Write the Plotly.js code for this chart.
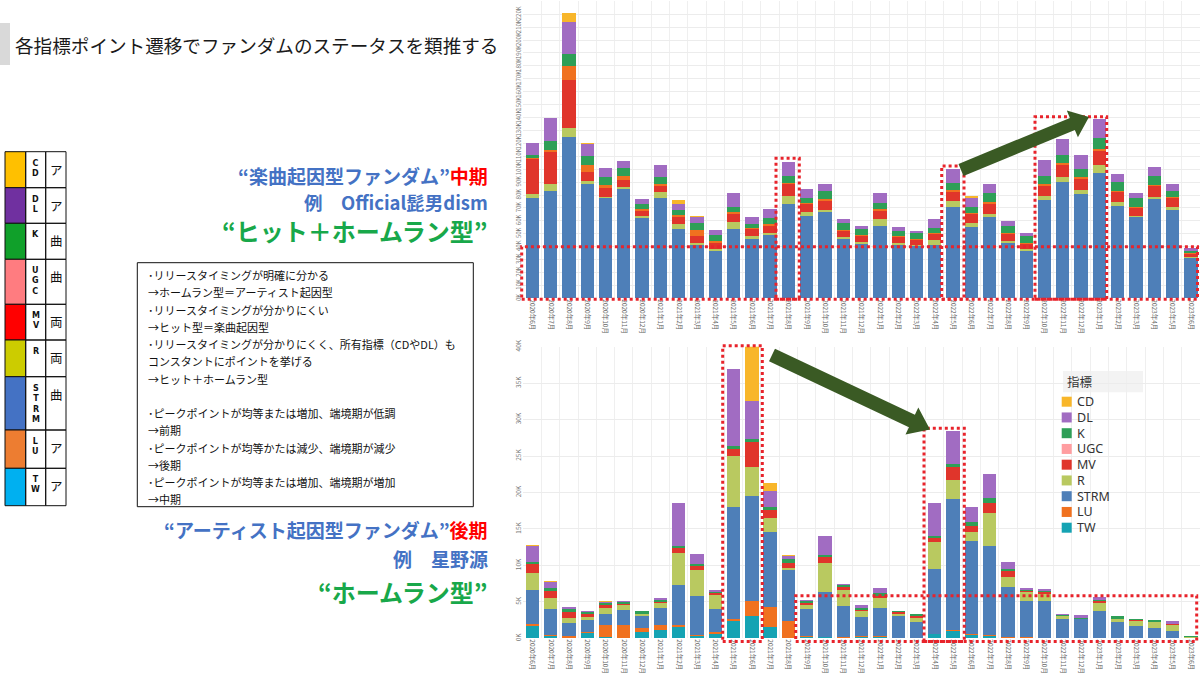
<!DOCTYPE html>
<html>
<head>
<meta charset="utf-8">
<script src="https://cdn.plot.ly/plotly-3.0.1.min.js"></script>
<style>
  html, body { margin: 0; padding: 0; background: #fff; }
  #chart { width: 1200px; height: 675px; }
</style>
</head>
<body>
<div id="chart"></div>
<script>
// months on both charts
const months = [
  "2020年6月", "2020年7月", "2020年8月", "2020年9月", "2020年10月", "2020年11月", "2020年12月",
  "2021年1月", "2021年2月", "2021年3月", "2021年4月", "2021年5月", "2021年6月", "2021年7月",
  "2021年8月", "2021年9月", "2021年10月", "2021年11月", "2021年12月",
  "2022年1月", "2022年2月", "2022年3月", "2022年4月", "2022年5月", "2022年6月", "2022年7月",
  "2022年8月", "2022年9月", "2022年10月", "2022年11月", "2022年12月",
  "2023年1月", "2023年2月", "2023年3月", "2023年4月", "2023年5月", "2023年6月"
];

// top chart (Official髭男dism), points in K
const topSTRM = [77.9, 83.1, 125.2, 88.5, 77.4, 84.6, 62.2, 77.4, 53.4, 41.3, 36.9, 53.4, 46.2, 49.0, 72.8, 63.7, 66.8, 46.2, 42.1, 56.3, 41.3, 40.5, 41.3, 71.0, 55.0, 63.2, 43.1, 36.9, 76.1, 90.3, 80.5, 96.8, 71.5, 62.7, 76.6, 68.4, 31.0];
const topR    = [2.6, 5.2, 7.0, 2.3, 1.3, 1.3, 1.5, 4.6, 4.1, 1.8, 1.6, 5.4, 2.1, 1.8, 6.7, 2.9, 1.6, 1.0, 1.3, 5.1, 1.8, 0.8, 3.9, 4.1, 3.1, 2.1, 1.5, 1.6, 3.4, 3.9, 3.4, 6.4, 3.3, 1.3, 2.1, 2.6, 0.7];
const topMV   = [27.1, 24.7, 36.9, 7.0, 6.5, 5.7, 4.1, 4.9, 5.2, 5.2, 4.1, 6.5, 5.1, 5.2, 8.8, 6.4, 7.2, 5.2, 4.9, 6.5, 4.1, 3.9, 4.6, 7.5, 7.2, 7.7, 5.2, 3.6, 7.7, 9.0, 8.5, 11.1, 7.3, 6.2, 8.3, 6.4, 2.6];
const topLU   = [1.3, 1.8, 11.1, 5.4, 2.6, 3.1, 1.0, 1.5, 1.6, 4.6, 2.0, 1.5, 1.1, 1.5, 0.7, 1.1, 1.0, 0.5, 0.7, 1.0, 1.1, 1.0, 1.0, 1.3, 1.0, 1.6, 1.0, 1.0, 1.1, 1.3, 1.3, 1.1, 1.0, 0.8, 0.7, 1.3, 0.5];
const topK    = [1.8, 7.0, 9.0, 7.2, 6.5, 6.5, 4.1, 5.2, 4.1, 5.7, 4.7, 4.2, 3.0, 4.4, 6.0, 3.8, 6.8, 5.2, 4.9, 5.2, 4.1, 4.1, 3.7, 5.1, 4.2, 7.2, 5.5, 5.2, 6.4, 6.5, 6.4, 9.0, 6.7, 6.4, 7.0, 4.4, 2.1];
const topDL   = [9.3, 18.1, 24.8, 9.3, 6.5, 5.2, 3.9, 9.3, 4.6, 4.6, 3.6, 10.3, 5.2, 7.0, 10.5, 7.0, 5.4, 3.1, 2.4, 7.2, 3.1, 1.8, 6.9, 11.1, 6.9, 6.7, 3.8, 2.0, 12.1, 12.1, 10.9, 14.7, 6.5, 4.1, 6.7, 5.4, 1.8];
const topCD   = [0, 0, 6.7, 0.8, 0, 0, 0, 0, 2.9, 0.8, 0, 0, 0, 0, 0, 0, 0, 0, 0, 0, 0, 0, 0, 0, 2.1, 0, 0, 0, 0, 0, 0, 0, 0, 0, 0.5, 0, 0];

// bottom chart (星野源), points in K
const botTW   = [1.7, 0.3, 0.05, 0.7, 0.2, 0.1, 0.9, 1.2, 1.55, 0.3, 0.6, 2.4, 3.0, 1.55, 0.1, 0.15, 0.2, 0.1, 0.2, 0.2, 0.1, 0.1, 0.55, 1.0, 0.4, 0.3, 0.05, 0.05, 0.05, 0.05, 0, 0.05, 0, 0, 0, 0, 0];
const botLU   = [0.2, 0.2, 0.3, 0.1, 1.6, 1.7, 0.5, 0.6, 0.3, 0.2, 0.3, 0.3, 2.1, 2.8, 2.3, 0.2, 0, 0.1, 0.1, 0.1, 0, 0, 0.1, 0.15, 0.2, 0.2, 0.15, 0.1, 0.05, 0, 0, 0, 0, 0, 0, 0, 0];
const botSTRM = [4.7, 3.5, 1.8, 1.7, 1.6, 2.1, 1.6, 2.4, 5.4, 5.3, 3.1, 15.3, 14.4, 10.2, 7.0, 3.7, 6.1, 4.25, 2.6, 3.9, 3.0, 2.2, 8.9, 17.95, 12.7, 12.2, 6.9, 4.9, 5.0, 2.6, 2.6, 3.7, 2.25, 1.7, 1.45, 1.0, 0.05];
const botR    = [2.4, 1.5, 0.6, 0.4, 0.8, 0.6, 0.4, 0.6, 4.4, 3.6, 1.9, 7.0, 4.0, 1.9, 0.3, 0.5, 4.0, 2.15, 0.8, 1.3, 0.2, 0.5, 3.7, 2.6, 1.3, 4.5, 1.3, 1.3, 1.0, 0.35, 0.1, 1.15, 0.45, 0.65, 0.75, 0.8, 0.15];
const botMV   = [1.2, 1.0, 0.8, 0.4, 0.3, 0.2, 0, 0.2, 0.7, 0.5, 0.3, 1.0, 3.4, 1.1, 0.6, 0.3, 0.8, 0.45, 0.2, 0.3, 0.3, 0.2, 0.55, 1.8, 0.8, 1.3, 0.8, 0.2, 0.3, 0.05, 0, 0.2, 0, 0.1, 0, 0.1, 0];
const botUGC  = [0, 0, 0, 0, 0, 0, 0, 0, 0, 0, 0, 0, 0, 0, 0, 0, 0, 0, 0, 0, 0, 0, 0, 0, 0, 0, 0, 0, 0, 0, 0, 0, 0, 0, 0, 0, 0];
const botK    = [0.2, 0.4, 0.5, 0.3, 0.3, 0.3, 0.3, 0.2, 0.3, 0.3, 0.2, 0.4, 0.4, 0.5, 0.6, 0.2, 0.3, 0.2, 0.3, 0.4, 0.1, 0.3, 0.3, 0.4, 0.5, 0.7, 0.3, 0.1, 0.1, 0.1, 0.1, 0.2, 0.3, 0.15, 0.25, 0.05, 0.1];
const botDL   = [2.3, 0.8, 0.2, 0.1, 0.2, 0.1, 0, 0.3, 5.9, 1.3, 0.2, 10.5, 5.3, 2.2, 0.4, 0.2, 2.6, 0.25, 0.4, 0.7, 0, 0, 4.4, 4.6, 2.15, 3.3, 0.9, 0.3, 0.3, 0.25, 0.35, 0.4, 0, 0, 0, 0.4, 0];
const botCD   = [0.1, 0.1, 0, 0, 0.05, 0, 0, 0, 0, 0, 0, 0, 7.5, 1.1, 0.1, 0, 0, 0, 0, 0, 0, 0, 0.1, 0, 0, 0, 0, 0, 0, 0, 0, 0, 0, 0, 0, 0, 0];

// legend / index table
const legendNames = ["CD", "DL", "K", "UGC", "MV", "R", "STRM", "LU", "TW"];
const tableLabels = ["C<br>D", "D<br>L", "K", "U<br>G<br>C", "M<br>V", "R", "S<br>T<br>R<br>M", "L<br>U", "T<br>W"];
const tableKana = ["ア", "ア", "曲", "曲", "両", "両", "曲", "ア", "ア"];

const noteLines = [
  "･リリースタイミングが明確に分かる",
  "→ホームラン型＝アーティスト起因型",
  "･リリースタイミングが分かりにくい",
  "→ヒット型＝楽曲起因型",
  "･リリースタイミングが分かりにくく、所有指標（CDやDL）も",
  "コンスタントにポイントを挙げる",
  "→ヒット＋ホームラン型",
  "",
  "･ピークポイントが均等または増加、端境期が低調",
  "→前期",
  "･ピークポイントが均等かたは減少、端境期が減少",
  "→後期",
  "･ピークポイントが均等または増加、端境期が増加",
  "→中期"
];

const colors = {
  CD: "#f8b62a", DL: "#a16cc2", K: "#2e9f57", UGC: "#ff9da0", MV: "#e0352b",
  R: "#b9c960", STRM: "#4e7fb8", LU: "#f0711f", TW: "#15a3b3"
};
const tableColors = ["#ffc000", "#7030a0", "#10a02a", "#ff7c80", "#ff0000", "#cccc00", "#4472c4", "#ed7d31", "#00b0f0"];

const JP = "'Noto Sans CJK JP', 'Noto Sans', sans-serif";

// pixel -> paper helpers
const px = (x) => x / 1200;
const py = (y) => 1 - y / 675;

function bar(name, y, xa, ya) {
  return {
    type: "bar", name: name, x: months, y: y, xaxis: xa, yaxis: ya,
    marker: { color: colors[name], line: { width: 0 } },
    showlegend: false, hoverinfo: "skip",
  };
}

const traces = [
  bar("STRM", topSTRM, "x", "y"),
  bar("R", topR, "x", "y"),
  bar("MV", topMV, "x", "y"),
  bar("LU", topLU, "x", "y"),
  bar("K", topK, "x", "y"),
  bar("DL", topDL, "x", "y"),
  bar("CD", topCD, "x", "y"),

  bar("TW", botTW, "x2", "y2"),
  bar("LU", botLU, "x2", "y2"),
  bar("STRM", botSTRM, "x2", "y2"),
  bar("R", botR, "x2", "y2"),
  bar("MV", botMV, "x2", "y2"),
  bar("UGC", botUGC, "x2", "y2"),
  bar("K", botK, "x2", "y2"),
  bar("DL", botDL, "x2", "y2"),
  bar("CD", botCD, "x2", "y2"),
];

const xCommon = {
  type: "category",
  domain: [px(523.2), 1],
  range: [-0.5, 36.5],
  tickangle: 90,
  tickfont: { size: 6.5, color: "#666", family: JP },
  showgrid: true,
  gridcolor: "#efefef",
  tickson: "boundaries",
  ticks: "",
  showline: false,
  zeroline: false,
  fixedrange: true,
};
const yCommon = {
  ticksuffix: "K",
  tickangle: -90,
  tickfont: { size: 6, color: "#777", family: JP },
  showgrid: true,
  gridcolor: "#ececec",
  zeroline: false,
  showline: false,
  ticks: "",
  fixedrange: true,
};

const shapes = [];
const annotations = [];

function rect(x0, y0, x1, y1, opt) {
  shapes.push(Object.assign({
    type: "rect", xref: "paper", yref: "paper",
    x0: px(x0), x1: px(x1), y0: py(y1), y1: py(y0), layer: "above",
  }, opt));
}
function text(x, y, t, opt, font) {
  annotations.push(Object.assign({
    xref: "paper", yref: "paper", x: px(x), y: py(y), text: t,
    showarrow: false, xanchor: "left", yanchor: "middle",
    font: Object.assign({ family: JP, size: 12, color: "#111" }, font || {}),
  }, opt));
}
function arrow(x0, y0, x1, y1, w, hw, hl) {
  const dx = x1 - x0, dy = y1 - y0, L = Math.hypot(dx, dy);
  const ux = dx / L, uy = dy / L, nx = -uy, ny = ux;
  const bx = x1 - ux * hl, by = y1 - uy * hl;
  const pts = [
    [x0 + nx * w / 2, y0 + ny * w / 2], [bx + nx * w / 2, by + ny * w / 2],
    [bx + nx * hw / 2, by + ny * hw / 2], [x1, y1],
    [bx - nx * hw / 2, by - ny * hw / 2], [bx - nx * w / 2, by - ny * w / 2],
    [x0 - nx * w / 2, y0 - ny * w / 2],
  ];
  shapes.push({
    type: "path", xref: "paper", yref: "paper", layer: "above",
    path: "M " + pts.map((p) => px(p[0]) + "," + py(p[1])).join(" L ") + " Z",
    fillcolor: "#3a5a24", line: { width: 0 },
  });
}

// red dotted highlight boxes
const dotted = { line: { color: "#e8232b", width: 3, dash: "dot" }, fillcolor: "rgba(0,0,0,0)" };
rect(521.7, 246.7, 1197.5, 299.3, dotted);
rect(776, 158.3, 799.3, 299.3, dotted);
rect(941.7, 166, 964, 299.3, dotted);
rect(1035, 116.7, 1106.7, 299.3, dotted);
rect(722.7, 345.7, 762.3, 641.5, dotted);
rect(795.7, 595.7, 1196.7, 641.5, dotted);
rect(924, 428.3, 964.3, 641.5, dotted);

// arrows
arrow(961, 170, 1089, 117, 13, 29, 18);
arrow(772, 355, 930, 429.5, 14, 30, 20);

// legend of the bottom chart
rect(1063, 371, 1143, 392.3, { fillcolor: "#f3f3f3", line: { width: 0 }, layer: "below" });
text(1065, 381.7, "指標", {}, { size: 12.5, color: "#333" });
legendNames.forEach((n, i) => {
  const yc = 401.7 + i * 15.75;
  rect(1061.7, yc - 5, 1071.7, yc + 5, { fillcolor: colors[n], line: { width: 0 } });
  text(1075, yc, n, {}, { size: 12.5, color: "#333", family: "'Noto Sans', sans-serif" });
});

// slide title
rect(0, 23, 10, 65, { fillcolor: "#d9d9d9", line: { width: 0 } });
text(13, 45, "各指標ポイント遷移でファンダムのステータスを類推する", {}, { size: 18.6, color: "#1a1a1a" });

// index table on the left
const rowTops = [151.7, 187.7, 223.3, 259.3, 304.3, 340, 376.7, 430, 468.3, 505.7];
const cols = [5, 25.7, 45.7, 66];
tableLabels.forEach((lab, i) => {
  const t0 = rowTops[i], t1 = rowTops[i + 1];
  rect(cols[0], t0, cols[1], t1, { fillcolor: tableColors[i], line: { color: "#111", width: 1 } });
  rect(cols[1], t0, cols[2], t1, { fillcolor: "rgba(0,0,0,0)", line: { color: "#111", width: 1 } });
  rect(cols[2], t0, cols[3], t1, { fillcolor: "rgba(0,0,0,0)", line: { color: "#111", width: 1 } });
  text(35.7, t0 + 5, "<b>" + lab + "</b>", { xanchor: "center", yanchor: "top" },
    { size: 8, family: "'DejaVu Sans', sans-serif", color: "#111" });
  text(56, t0 + 6, tableKana[i], { xanchor: "center", yanchor: "top" }, { size: 12.5, color: "#111" });
});

// headings
const blue = "#4472c4", red = "#ff0000", green = "#18a84a";
text(490, 176, "<b>“楽曲起因型ファンダム”<span style='color:" + red + "'>中期</span></b>",
  { xanchor: "right" }, { size: 19, color: blue });
text(490, 202, "<b>例　Official髭男dism</b>", { xanchor: "right" }, { size: 18.5, color: blue });
text(490, 230, "<b>“ヒット＋ホームラン型”</b>", { xanchor: "right" }, { size: 24, color: green });

text(490, 529, "<b>“アーティスト起因型ファンダム”<span style='color:" + red + "'>後期</span></b>",
  { xanchor: "right" }, { size: 19, color: blue });
text(490, 558, "<b>例　星野源</b>", { xanchor: "right" }, { size: 19, color: blue });
text(490, 591, "<b>“ホームラン型”</b>", { xanchor: "right" }, { size: 24, color: green });

// note box
rect(137.3, 262.7, 473.3, 506.7, { fillcolor: "rgba(0,0,0,0)", line: { color: "#111", width: 1 } });
noteLines.forEach((ln, i) => {
  if (ln) text(146, 275 + i * 17.25, ln, {}, { size: 11, color: "#111" });
});

const layout = {
  width: 1200,
  height: 675,
  margin: { t: 0, l: 0, r: 0, b: 0 },
  paper_bgcolor: "#ffffff",
  plot_bgcolor: "#ffffff",
  barmode: "stack",
  bargap: 0.27,
  showlegend: false,
  xaxis: Object.assign({}, xCommon, { anchor: "y" }),
  yaxis: Object.assign({}, yCommon, { domain: [py(298.3), py(1.3)], range: [0, 230], dtick: 10, anchor: "x" }),
  xaxis2: Object.assign({}, xCommon, { anchor: "y2" }),
  yaxis2: Object.assign({}, yCommon, { domain: [py(638.3), py(346.7)], range: [0, 40], dtick: 5, anchor: "x2",
    tickfont: { size: 6.5, color: "#777", family: JP } }),
  shapes: shapes,
  annotations: annotations,
};

Plotly.newPlot("chart", traces, layout, { staticPlot: true, displayModeBar: false });
</script>
</body>
</html>
